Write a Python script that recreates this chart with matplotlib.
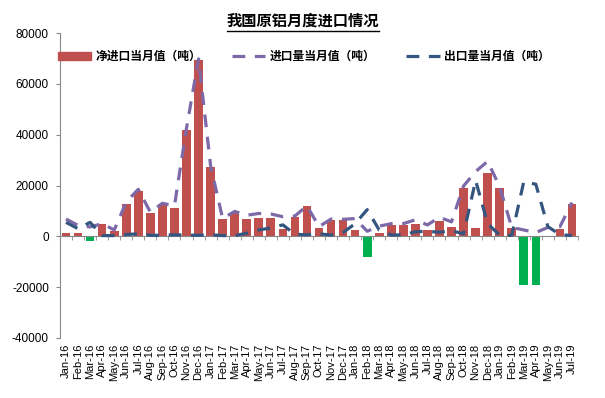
import matplotlib.pyplot as plt
import numpy as np
import pandas as pd
from matplotlib.lines import Line2D

plt.rcParams['axes.unicode_minus'] = False

# 月份标签 Jan-16 ... Jul-19
months = list(pd.date_range('2016-01-01', '2019-07-01', freq='MS').strftime('%b-%y'))

# 净进口当月值（吨）
net_import = [1300, 1300, -1800, 4800, 2100, 12900, 17700, 9200, 12600, 11000, 42000, 69400,
              27100, 6700, 9600, 7000, 7200, 7200, 2900, 7600, 11800, 3200, 6300, 6300,
              2400, -8100, 1400, 4500, 4500, 4900, 2500, 5900, 3500, 19100, 3200, 25000,
              19100, 3200, -19000, -19000, -300, 2800, 12900]
# 进口量当月值（吨）
imports = [6800, 4300, 3700, 5000, 2500, 13500, 18500, 9500, 13000, 12000, 42500, 69800,
           27800, 7000, 9800, 8300, 9000, 8800, 7700, 8000, 12000, 3800, 6800, 6700,
           7000, 2000, 4000, 5000, 5000, 6500, 4500, 7500, 5700, 19800, 25500, 29500,
           19500, 3500, 2500, 1500, 3500, 3800, 13300]
# 出口量当月值（吨）
exports = [5500, 3000, 5500, 300, 300, 700, 1000, 400, 400, 600, 500, 400,
           600, 300, 300, 1200, 2500, 3300, 4500, 800, 600, 1000, 500, 1500,
           5000, 10500, 2500, 500, 600, 1800, 2000, 1600, 2200, 1000, 22000, 5000,
           400, 400, 21500, 20500, 3800, 700, 300]

labels = ['净进口当月值（吨）', '进口量当月值（吨）', '出口量当月值（吨）']
title = '我国原铝月度进口情况'

cjk = ['Noto Sans CJK SC', 'DejaVu Sans']
num_font = 'Liberation Sans'

x = np.arange(len(months))
net = np.array(net_import)
bar_colors = ['#C0504D' if v >= 0 else '#00B050' for v in net]

fig = plt.figure(figsize=(6.05, 3.98), dpi=100)
ax = fig.add_axes([60 / 605, 1 - 338 / 398, 518 / 605, 305 / 398])

bars = ax.bar(x, net, width=0.72, color=bar_colors, zorder=2)
l_imp, = ax.plot(x, imports, color='#7D68A8', lw=2.3, dashes=(4, 3),
                 solid_capstyle='butt', dash_capstyle='butt', zorder=3)
l_exp, = ax.plot(x, exports, color='#34557F', lw=2.3, dashes=(4, 3),
                 solid_capstyle='butt', dash_capstyle='butt', zorder=4)

ax.set_xlim(-0.5, len(months) - 0.5)
ax.set_ylim(-40000, 80000)
ax.set_yticks(np.arange(-40000, 80001, 20000))
ax.set_yticklabels([str(int(v)) for v in ax.get_yticks()], fontfamily=num_font, fontsize=8.5)
ax.tick_params(axis='y', length=3, color='#888888', pad=5)

for s in ['top', 'right']:
    ax.spines[s].set_visible(False)
ax.spines['left'].set_color('#888888')
ax.spines['bottom'].set_position(('data', 0))
ax.spines['bottom'].set_color('#888888')
ax.set_xticks([])
ax.set_xticks(np.arange(-0.5, len(months), 1), minor=True)
ax.tick_params(axis='x', which='minor', length=3, color='#888888')

sec = ax.secondary_xaxis('bottom')
sec.set_xticks(x)
sec.set_xticklabels(months, rotation=90, fontfamily=num_font, fontsize=8)
sec.tick_params(length=0, pad=4)
sec.spines['bottom'].set_visible(False)

bar_handle = plt.Rectangle((0, 0), 1, 1, color='#C0504D')
fig.legend([bar_handle, l_imp, l_exp], labels, loc='upper left',
           bbox_to_anchor=(58 / 605, 1 - 50 / 398), ncol=3, frameon=False,
           prop={'family': cjk, 'weight': 'bold', 'size': 8.5},
           handlelength=2.8, handletextpad=0.4, columnspacing=2.6,
           borderpad=0, borderaxespad=0)

t = fig.text(303 / 605, 1 - 21 / 398, title, ha='center', va='center',
             fontsize=11, fontweight='bold', family=cjk)
fig.canvas.draw()
bb = t.get_window_extent()
fig.add_artist(Line2D([bb.x0 / fig.bbox.width, bb.x1 / fig.bbox.width],
                      [1 - 31 / 398, 1 - 31 / 398], color='black', lw=1,
                      transform=fig.transFigure))

fig.savefig('out.png', dpi=100)
